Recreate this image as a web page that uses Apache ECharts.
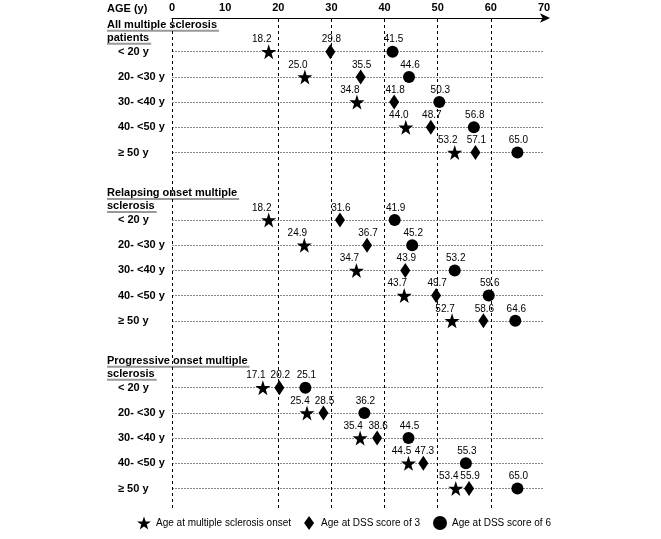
<!DOCTYPE html>
<html><head><meta charset="utf-8">
<script src="https://cdn.jsdelivr.net/npm/echarts@6/dist/echarts.min.js"></script>
<style>html,body{margin:0;padding:0;background:#fff}#c{width:661px;height:539px}</style>
</head><body><div id="c"></div>
<script>
const rowLabels = ['< 20 y', '20- <30 y', '30- <40 y', '40- <50 y', '\u2265 50 y'];
const sectionTitles = [['All multiple sclerosis', 'patients'], ['Relapsing onset multiple', 'sclerosis'], ['Progressive onset multiple', 'sclerosis']];
const xTicks = [0, 10, 20, 30, 40, 50, 60, 70];
const refLines = [0, 20, 30, 40, 50, 60];
const seriesNames = ['Age at multiple sclerosis onset', 'Age at DSS score of 3', 'Age at DSS score of 6'];

const onsetAll = [18.2, 25.0, 34.8, 44.0, 53.2];
const dss3All = [29.8, 35.5, 41.8, 48.7, 57.1];
const dss6All = [41.5, 44.6, 50.3, 56.8, 65.0];
const onsetRel = [18.2, 24.9, 34.7, 43.7, 52.7];
const dss3Rel = [31.6, 36.7, 43.9, 49.7, 58.6];
const dss6Rel = [41.9, 45.2, 53.2, 59.6, 64.6];
const onsetProg = [17.1, 25.4, 35.4, 44.5, 53.4];
const dss3Prog = [20.2, 28.5, 38.6, 47.3, 55.9];
const dss6Prog = [25.1, 36.2, 44.5, 55.3, 65.0];

const sectionData = [[onsetAll, dss3All, dss6All], [onsetRel, dss3Rel, dss6Rel], [onsetProg, dss3Prog, dss6Prog]];

const FONT = '"Liberation Sans", Arial, sans-serif';
const STAR = 'path://M50,0 L61.8,35.1 L98.9,35.1 L69.1,57.3 L79.4,91.9 L50,71 L20.6,91.9 L30.9,57.3 L1.1,35.1 L38.2,35.1 Z';
const DIAMOND = 'path://M5,0 L10,7 L5,14 L0,7 Z';
const symbols = [STAR, DIAMOND, 'circle'];
const symSizes = [[15, 15], [10, 15], 12];
const labelOffsets = [[-7, -12], [1, -12], [1, -12]];

const L = 172, R = 117;
const gridTops = [51.7, 220, 387.7];
const rowH = 25.2;

const grids = [{left: L, right: R, top: 18, bottom: 31}];
const xAxes = [{
  type: 'value', gridIndex: 0, position: 'top', min: 0, max: 70, interval: 10,
  axisLine: {show: true, onZero: false, lineStyle: {color: '#000', width: 1}, symbol: ['none', 'arrow'], symbolSize: [7, 10], symbolOffset: [0, 6]},
  axisTick: {show: false}, splitLine: {show: false},
  axisLabel: {show: true, margin: 5, color: '#000', fontWeight: 'bold', fontSize: 11, fontFamily: FONT}
}];
const yAxes = [{type: 'value', gridIndex: 0, min: 0, max: 1, show: false}];
const series = [{
  type: 'scatter', xAxisIndex: 0, yAxisIndex: 0, data: [], silent: true,
  markLine: {silent: true, symbol: 'none', label: {show: false},
    lineStyle: {color: '#000', type: [3, 3], width: 1},
    data: refLines.map(v => ({xAxis: v}))}
}];

gridTops.forEach((t, s) => {
  const gi = s + 1;
  grids.push({left: L, right: R, top: t, height: rowH * 4});
  xAxes.push({type: 'value', gridIndex: gi, min: 0, max: 70, show: false});
  yAxes.push({
    type: 'category', gridIndex: gi, data: rowLabels, inverse: true, boundaryGap: false,
    axisLine: {show: false}, axisTick: {show: false},
    axisLabel: {align: 'left', margin: L - 118, color: '#000', fontWeight: 'bold', fontSize: 11, fontFamily: FONT},
    splitLine: {show: true, lineStyle: {color: '#888', type: [2, 1], width: 1}}
  });
  sectionData[s].forEach((arr, k) => {
    series.push({
      name: seriesNames[k], type: 'scatter', xAxisIndex: gi, yAxisIndex: gi,
      symbol: symbols[k], symbolSize: symSizes[k],
      itemStyle: {color: '#000', opacity: 1},
      label: {show: true, position: 'inside', offset: labelOffsets[k], color: '#000', fontSize: 10, fontFamily: FONT,
        formatter: p => p.value[0].toFixed(1)},
      data: arr.map((v, i) => [v, rowLabels[i]]),
      z: 5
    });
  });
});

const ctx = document.createElement('canvas').getContext('2d');
ctx.font = 'bold 11px ' + FONT;
const graphic = [{type: 'text', left: 107, top: 3, style: {text: 'AGE (y)', font: 'bold 11px ' + FONT, fill: '#000'}}];
sectionTitles.forEach((lines, s) => {
  lines.forEach((ln, j) => {
    const cy = gridTops[s] - 27 + j * 13;
    graphic.push({type: 'text', x: 107, y: cy, style: {text: ln, font: 'bold 11px ' + FONT, fill: '#000', verticalAlign: 'middle'}});
    const w = ctx.measureText(ln).width;
    graphic.push({type: 'line', shape: {x1: 107, y1: cy + 6, x2: 107 + w + 2, y2: cy + 6}, style: {stroke: '#999', lineWidth: 2}});
  });
});

const chart = echarts.init(document.getElementById('c'), null, {renderer: 'canvas'});
chart.setOption({
  animation: false,
  backgroundColor: '#fff',
  grid: grids, xAxis: xAxes, yAxis: yAxes, series: series, graphic: graphic,
  legend: {
    left: 132, top: 511, itemWidth: 14, itemHeight: 14, itemGap: 13,
    textStyle: {fontSize: 10, color: '#000', fontFamily: FONT},
    data: [{name: seriesNames[0], icon: STAR}, {name: seriesNames[1], icon: DIAMOND}, {name: seriesNames[2], icon: 'circle'}]
  }
});
</script></body></html>
